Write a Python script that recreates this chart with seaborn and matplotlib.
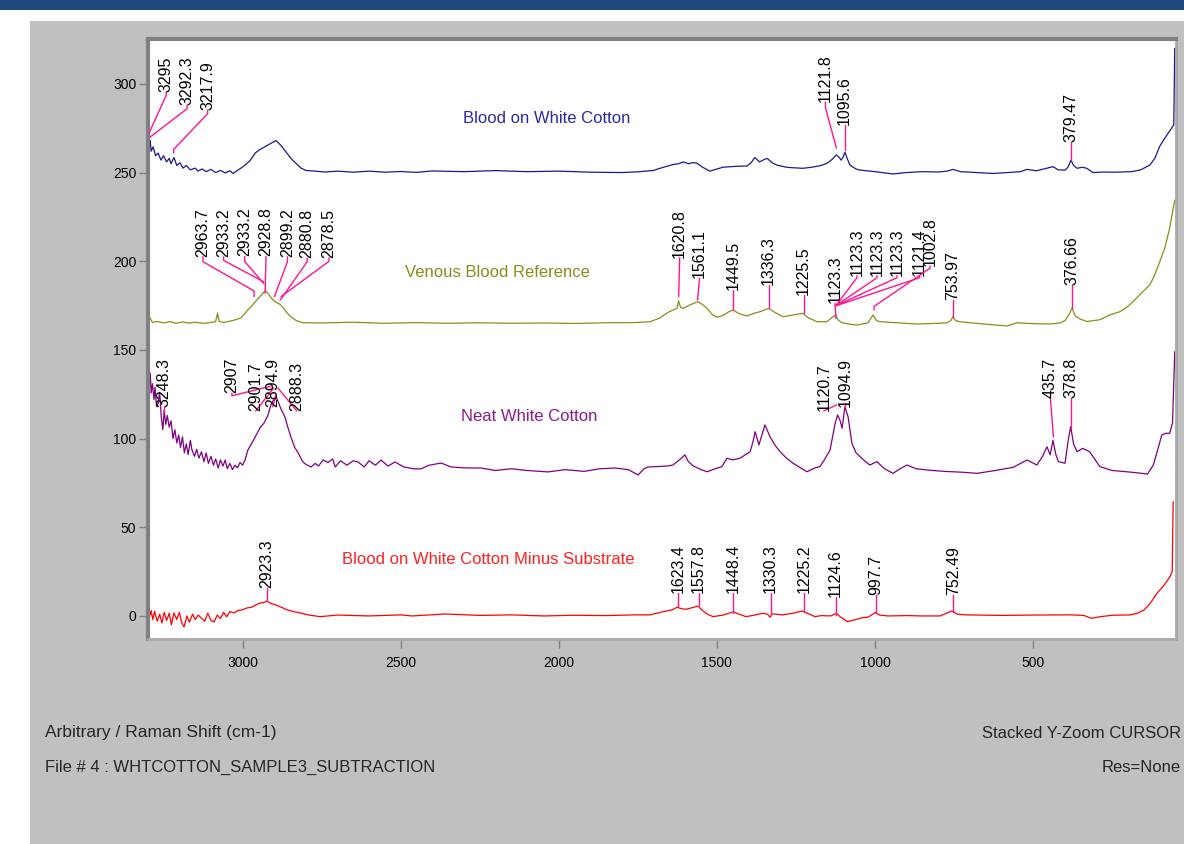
import matplotlib
matplotlib.use("Agg")
import matplotlib.pyplot as plt
from matplotlib.patches import Rectangle
import pandas as pd
import seaborn as sns

# Espectros Raman: (desplazamiento cm-1, intensidad)
blood_cotton = [
    (3292, 268), (3289, 262), (3283, 264.5), (3275, 259.5), (3267, 261), (3258, 257), (3250, 259.5),
    (3240, 256), (3232, 258), (3226, 255), (3217, 258.5), (3208, 254), (3198, 255.5), (3188, 252.5),
    (3178, 254), (3165, 251.5), (3150, 252.5), (3141, 250.8), (3128, 252), (3115, 250.5), (3100, 251.8),
    (3085, 250), (3070, 251.2), (3055, 249.8), (3040, 251), (3030, 249.5), (3018, 251), (3005, 252.5),
    (2990, 254.5), (2975, 257), (2960, 261), (2945, 263), (2929, 264.6), (2915, 266), (2900, 267.5),
    (2894, 268), (2885, 266.5), (2875, 264.5), (2860, 261), (2847, 258), (2830, 255), (2815, 252.5),
    (2800, 251.2), (2771, 250.8), (2740, 250.3), (2700, 250.8), (2650, 250.2), (2600, 250.8),
    (2550, 250.2), (2500, 250.6), (2450, 250.1), (2400, 250.9), (2300, 250.5), (2200, 251.1),
    (2100, 250.5), (2000, 250.8), (1900, 250.2), (1800, 250), (1750, 250.4), (1700, 251.2),
    (1680, 252.4), (1658, 253.5), (1639, 254.5), (1620, 255), (1607, 256), (1590, 255), (1575, 255.6),
    (1563, 255.3), (1545, 253), (1522, 250.8), (1500, 252), (1481, 253), (1440, 253.5), (1405, 253.7),
    (1392, 255.5), (1380, 258.5), (1365, 256), (1352, 257.2), (1341, 258), (1325, 255.5), (1310, 254.2),
    (1280, 253), (1259, 252.7), (1228, 252.4), (1200, 253), (1170, 254), (1152, 255.2), (1135, 257.5),
    (1122, 260), (1113, 258.5), (1107, 257), (1100, 259), (1095, 261.5), (1088, 258), (1079, 254.2),
    (1060, 252), (1047, 251.4), (1000, 250.5), (943, 249.2), (900, 250), (850, 250.5), (800, 250.3),
    (772, 250.8), (753, 251.8), (730, 250.5), (680, 250), (627, 249.5), (580, 250), (540, 250.5),
    (519, 251.8), (490, 251), (456, 252.5), (437, 253.3), (420, 251.5), (399, 251.4), (390, 253),
    (380, 257), (372, 254), (361, 252.4), (345, 253), (330, 252.4), (311, 250), (280, 250.3),
    (240, 250.2), (188, 250.5), (160, 251.5), (131, 254.2), (115, 258), (100, 264.6), (85, 269),
    (62, 275), (55, 277), (52, 320),
]

venous_blood = [
    (3292, 168), (3285, 165.5), (3270, 166), (3250, 165.2), (3230, 166), (3210, 165), (3190, 165.8),
    (3170, 165.1), (3150, 165.6), (3125, 165), (3103, 165.4), (3085, 166), (3079, 170.8), (3074, 166),
    (3060, 165.5), (3040, 166.2), (3024, 166.9), (3005, 168), (2986, 172), (2970, 175), (2960, 177.2),
    (2945, 180), (2935, 182.2), (2928, 183.3), (2920, 182), (2910, 179.5), (2900, 177.5), (2890, 176.5),
    (2880, 175.5), (2870, 173.5), (2860, 171), (2847, 168.7), (2830, 166.5), (2809, 165.3),
    (2750, 165.2), (2650, 165.6), (2550, 165), (2450, 165.4), (2350, 165), (2250, 165.3), (2150, 165),
    (2050, 165.2), (1950, 164.9), (1850, 165.3), (1760, 165.4), (1711, 165.9), (1680, 168),
    (1658, 170.8), (1639, 172.5), (1626, 173.4), (1621, 177.7), (1615, 174), (1607, 173.4),
    (1590, 175), (1578, 175.9), (1560, 177.2), (1545, 175.5), (1531, 173.4), (1515, 170), (1500, 168.4),
    (1480, 169.5), (1462, 171.5), (1449, 172.5), (1430, 170.5), (1405, 169.1), (1385, 170.5),
    (1364, 171.5), (1350, 172.5), (1336, 173.4), (1320, 171.5), (1291, 168.7), (1259, 169.7),
    (1240, 170.3), (1228, 170.6), (1210, 168), (1183, 165.9), (1152, 165.9), (1133, 168.7),
    (1124, 169.5), (1117, 167), (1104, 165.3), (1080, 164.5), (1057, 164), (1022, 165.3),
    (1006, 169.7), (995, 166.5), (984, 165.9), (920, 165.2), (867, 164.6), (800, 165), (772, 165.3),
    (760, 166.5), (754, 168.7), (745, 166.5), (731, 165.9), (680, 165), (630, 164.2), (582, 163.5),
    (551, 165.3), (500, 164.8), (446, 164.6), (415, 165.2), (399, 166.5), (386, 170), (377, 173.6),
    (366, 169), (352, 167.5), (330, 166), (311, 166.5), (289, 167), (258, 169.7), (226, 171.5),
    (204, 174), (185, 177), (163, 181), (131, 186.6), (116, 192), (100, 199.5), (84, 207),
    (68, 218.7), (52, 234.5),
]

neat_cotton = [
    (3292, 137), (3289, 125.7), (3285, 131), (3280, 122), (3277, 129), (3272, 118), (3267, 120),
    (3262, 126), (3257, 112), (3252, 105), (3248, 116), (3243, 108), (3238, 113), (3232, 106.5),
    (3226, 110), (3220, 100), (3214, 105), (3208, 97.5), (3202, 102), (3196, 95), (3190, 101),
    (3184, 92), (3178, 97), (3172, 91), (3165, 99), (3160, 93.6), (3152, 90), (3145, 94), (3138, 89),
    (3130, 92.5), (3122, 87), (3115, 91.9), (3108, 86), (3100, 90), (3092, 85), (3085, 88.5),
    (3077, 83.4), (3070, 88), (3062, 84.5), (3055, 87.9), (3048, 83), (3040, 86), (3032, 82.5),
    (3024, 85), (3016, 83.5), (3008, 86.5), (3000, 85), (2992, 88), (2983, 93.6), (2972, 97),
    (2960, 100.9), (2945, 106), (2932, 108.8), (2920, 113), (2912, 118), (2905, 121), (2898, 122),
    (2894, 123.5), (2888, 121), (2881, 117.8), (2874, 115), (2866, 112.2), (2856, 106), (2847, 100.9),
    (2835, 95), (2824, 91.9), (2810, 87), (2800, 85.5), (2783, 84), (2770, 86), (2760, 84.5),
    (2745, 88), (2730, 86.5), (2715, 88.5), (2707, 84), (2690, 87.5), (2670, 85), (2650, 87.5),
    (2635, 86.8), (2615, 84), (2600, 87.5), (2580, 85), (2562, 87.9), (2540, 84.5), (2518, 86.8),
    (2490, 84), (2460, 83), (2436, 82.9), (2410, 85), (2372, 86.2), (2340, 84), (2300, 83.5),
    (2246, 83.4), (2200, 82), (2150, 83), (2100, 82), (2034, 81.2), (1980, 82.5), (1920, 81.5),
    (1870, 83), (1822, 83.4), (1780, 82.5), (1749, 79.5), (1730, 83), (1718, 84), (1690, 84.2),
    (1654, 84.6), (1639, 85.1), (1615, 88.5), (1601, 90.8), (1590, 87), (1575, 84.6), (1550, 82.5),
    (1531, 81.3), (1505, 83), (1484, 84.2), (1468, 88.9), (1450, 88), (1427, 88.9), (1395, 92.6),
    (1386, 98), (1379, 103.9), (1367, 96.4), (1348, 107.7), (1332, 101.1), (1315, 96), (1300, 92.6),
    (1280, 89), (1259, 86.1), (1240, 84), (1215, 81.3), (1190, 83.5), (1174, 84.2), (1160, 88),
    (1142, 93.6), (1130, 105), (1126, 108.6), (1118, 113.3), (1110, 110), (1104, 105.8), (1095, 118),
    (1085, 112.3), (1073, 97.4), (1060, 92), (1047, 89.8), (1030, 87), (1016, 85.1), (994, 87),
    (970, 83), (943, 80.4), (920, 83), (899, 85.1), (870, 83), (836, 82.3), (780, 81.5), (720, 81),
    (677, 80.4), (620, 82), (563, 83.8), (519, 87.9), (488, 85.1), (470, 90), (456, 95.4),
    (446, 90.8), (437, 99), (428, 91), (420, 87), (399, 86.1), (388, 100), (381, 106.7), (372, 97),
    (361, 92.6), (343, 94.5), (321, 92.6), (289, 84.2), (250, 82), (204, 81.3), (160, 80.5),
    (138, 80), (120, 85), (109, 91.7), (93, 102), (80, 103), (68, 103), (59, 108.8), (52, 149),
]

blood_minus_substrate = [
    (3292, 0.6), (3289, 3), (3284, -2), (3278, 2.5), (3270, -3), (3262, 1), (3255, -4), (3248, 2),
    (3240, -2.5), (3232, 1.5), (3225, -5), (3217, 1.7), (3208, -2), (3200, 2), (3192, -4),
    (3185, -6.2), (3176, 0), (3168, -3.5), (3158, 1), (3150, -2), (3140, 0.5), (3131, -1.1),
    (3120, -3), (3110, 1.5), (3100, -2.5), (3090, -3.4), (3080, 0.5), (3070, -1.5), (3060, 2),
    (3050, -0.5), (3040, 2.5), (3027, 1.7), (3015, 3), (3000, 3.5), (2986, 4.5), (2970, 5), (2960, 6),
    (2945, 7.3), (2935, 7.5), (2923, 8.3), (2910, 7), (2900, 6.5), (2881, 5.2), (2860, 3.5),
    (2840, 2.5), (2818, 1.7), (2790, 0.5), (2755, -0.4), (2700, 0.5), (2600, 0), (2500, 0.6),
    (2464, 0), (2360, 1.1), (2250, 0.3), (2150, 0.6), (2046, 0), (1950, 0.4), (1850, 0.2), (1760, 0.6),
    (1711, 0.6), (1670, 2.4), (1640, 3.5), (1626, 4.9), (1610, 4), (1596, 3.8), (1575, 4.8),
    (1560, 5.6), (1545, 3), (1530, 1), (1512, -0.4), (1480, 0.5), (1449, 2.3), (1430, 1),
    (1408, -0.4), (1380, 0.5), (1356, 1.5), (1340, 1), (1332, -0.7), (1325, 1.2), (1294, 0.6),
    (1260, 1.5), (1231, 2.8), (1210, 1.2), (1190, -0.4), (1170, 0.2), (1140, 0), (1122, 1.5),
    (1110, -0.5), (1087, -3.2), (1060, -2), (1040, -1), (1022, -0.7), (999, 1.9), (985, 0.5), (959, 0),
    (900, 0.2), (850, 0), (794, 0), (757, 2.8), (740, 1), (712, 0.6), (600, 0.3), (500, 0.5),
    (400, 0.6), (379, 0.6), (340, 0.3), (316, -1.3), (290, -0.5), (250, 0.4), (193, 0.6), (170, 1.5),
    (149, 3.4), (130, 7), (108, 12.8), (85, 17.5), (67, 22.2), (60, 25), (57, 64.4),
]

# Etiquetas de picos y altura del punto marcado
blood_cotton_peaks = ["3295", "3292.3", "3217.9", "1121.8", "1095.6", "379.47"]
blood_cotton_peak_y = [272.5, 270, 261, 263.8, 262.7, 257]
venous_peaks = ["2963.7", "2933.2", "2933.2", "2928.8", "2899.2", "2880.8", "2878.5", "1620.8",
                "1561.1", "1449.5", "1336.3", "1225.5", "1123.3", "1123.3", "1123.3", "1123.3",
                "1121.4", "1002.8", "753.97", "376.66"]
venous_peak_y = [180, 188.4, 187.5, 181.9, 180, 178.1, 180, 180, 178.1, 172.5, 173.5, 170.6,
                 167.8, 175, 175, 175, 175, 172.5, 168.7, 173.6]
neat_peaks = ["3248.3", "2907", "2901.7", "2894.9", "2888.3", "1120.7", "1094.9", "435.7", "378.8"]
neat_peak_y = [115, 129.7, 128.5, 124.6, 128.5, 119, 120, 100.9, 106.5]
minus_peaks = ["2923.3", "1623.4", "1557.8", "1448.4", "1330.3", "1225.2", "1124.6", "997.7", "752.49"]
minus_peak_y = [8.5, 5.1, 6.2, 1.9, 1.5, 3, 0.6, 1.5, 2.4]

# Posicion de cada etiqueta: (dx, dy, brazo texto, brazo pico) en pixeles
blood_cotton_off = [(17, 41, 5, 0), (37, 32, 5, 0), (34, 43, 5, 5), (-11, 46, 8, 0), (0, 25, 0, 0), (0, 18, 0, 0)]
venous_off = [(-51, 40, 7, 8), (-40, 25, 5, 0), (-19, 27, 7, 0), (1, 37, 0, 0), (13, 40, 7, 0),
              (27, 42, 5, 0), (48, 39, 5, 0), (1, 39, 0, 0), (2, 22, 0, 0), (0, 20, 0, 0),
              (0, 23, 0, 0), (0, 18, 0, 0), (-1, 15, 0, 0), (21, 30, 3, 0), (41, 30, 3, 0),
              (61, 30, 3, 0), (83, 30, 3, 0), (56, 44, 3, 5), (0, 17, 0, 0), (0, 23, 0, 0)]
neat_off = [(0, 5, 0, 0), (-40, -7, 4, 0), (-18, -23, 0, 0), (-3, -12, 0, 0), (19, -23, 0, 0),
            (-13, -6, 0, 0), (0, -4, 0, 0), (-3, 39, 0, 0), (0, 29, 0, 0)]
minus_off = [(0, 13, 0, 0), (0, 14, 0, 0), (0, 12, 0, 0), (0, 20, 0, 0), (0, 20, 0, 0),
             (0, 18, 0, 0), (0, 18, 0, 0), (0, 18, 0, 0), (0, 17, 0, 0)]

# Nombre y posicion del titulo de cada espectro
names = ["Blood on White Cotton", "Venous Blood Reference", "Neat White Cotton",
         "Blood on White Cotton Minus Substrate"]
name_pos = [(2037, 280.7), (2195, 193.9), (2094, 112.7), (2222, 31.6)]
colors = ["#1a1a8c", "#8c8c1a", "#800080", "#ff0000"]
name_colors = ["#2a2aa0", "#8c8c1a", "#8a1a8a", "#ff2020"]
PINK = "#ff1493"

espectros = [blood_cotton, venous_blood, neat_cotton, blood_minus_substrate]
picos = [blood_cotton_peaks, venous_peaks, neat_peaks, minus_peaks]
picos_y = [blood_cotton_peak_y, venous_peak_y, neat_peak_y, minus_peak_y]
offsets = [blood_cotton_off, venous_off, neat_off, minus_off]

sns.set_style("white")
plt.rcParams["font.family"] = ["Liberation Sans", "DejaVu Sans"]

fig = plt.figure(figsize=(11.84, 8.44), dpi=100, facecolor="white")
fig.patches.append(Rectangle((30 / 1184, 0), 1, 823 / 844, transform=fig.transFigure,
                             facecolor="#c0c0c0", edgecolor="none", zorder=-10))
fig.patches.append(Rectangle((0, 834 / 844), 1, 10 / 844, transform=fig.transFigure,
                             facecolor="#1f497d", edgecolor="none", zorder=-10))

ax = fig.add_axes([148 / 1184, 205 / 844, 1028 / 1184, 600 / 844])
ax.set_facecolor("white")

for datos, color, nombre, pos, ncol in zip(espectros, colors, names, name_pos, name_colors):
    df = pd.DataFrame(datos, columns=["shift", "intensity"])
    sns.lineplot(data=df, x="shift", y="intensity", color=color, lw=0.9,
                 sort=False, estimator=None, ax=ax)
    ax.text(pos[0], pos[1], nombre, color=ncol, fontsize=12, ha="center", va="center")

for etiquetas, ys, offs in zip(picos, picos_y, offsets):
    for etiqueta, y, (dx, dy, armA, armB) in zip(etiquetas, ys, offs):
        estilo = f"arc,angleA=-90,armA={armA * 0.72},angleB=90,armB={armB * 0.72},rad=0"
        ax.annotate(etiqueta, xy=(float(etiqueta), y), xytext=(dx, dy), textcoords="offset pixels",
                    rotation=90, ha="center", va="bottom", fontsize=11.5, color="black",
                    arrowprops=dict(arrowstyle="-", color=PINK, lw=1, shrinkA=0, shrinkB=0,
                                    patchA=None, relpos=(0.5, 0), connectionstyle=estilo))

ax.set_xlim(3299, 48)
ax.set_ylim(-13, 325.3)
ax.set_xticks([3000, 2500, 2000, 1500, 1000, 500])
ax.set_yticks([0, 50, 100, 150, 200, 250, 300])
ax.set_xlabel("")
ax.set_ylabel("")
ax.tick_params(axis="both", direction="out", length=6.5, width=1, color="#808080",
               labelsize=10, pad=2, bottom=True, left=True, labelcolor="black")
ax.tick_params(axis="x", pad=6)
for lado in ["left", "top"]:
    ax.spines[lado].set_color("#808080")
    ax.spines[lado].set_linewidth(3)
for lado in ["right", "bottom"]:
    ax.spines[lado].set_color("#a8a8a8")
    ax.spines[lado].set_linewidth(2)

fig.text(45 / 1184, 1 - 733 / 844, "Arbitrary / Raman Shift (cm-1)", fontsize=12.5, va="center")
fig.text(45 / 1184, 1 - 767 / 844, "File # 4 : WHTCOTTON_SAMPLE3_SUBTRACTION", fontsize=12, va="center")
fig.text(1181 / 1184, 1 - 733 / 844, "Stacked Y-Zoom CURSOR", fontsize=12, va="center", ha="right")
fig.text(1181 / 1184, 1 - 767 / 844, "Res=None", fontsize=12, va="center", ha="right")

fig.savefig("out.png", dpi=100)
